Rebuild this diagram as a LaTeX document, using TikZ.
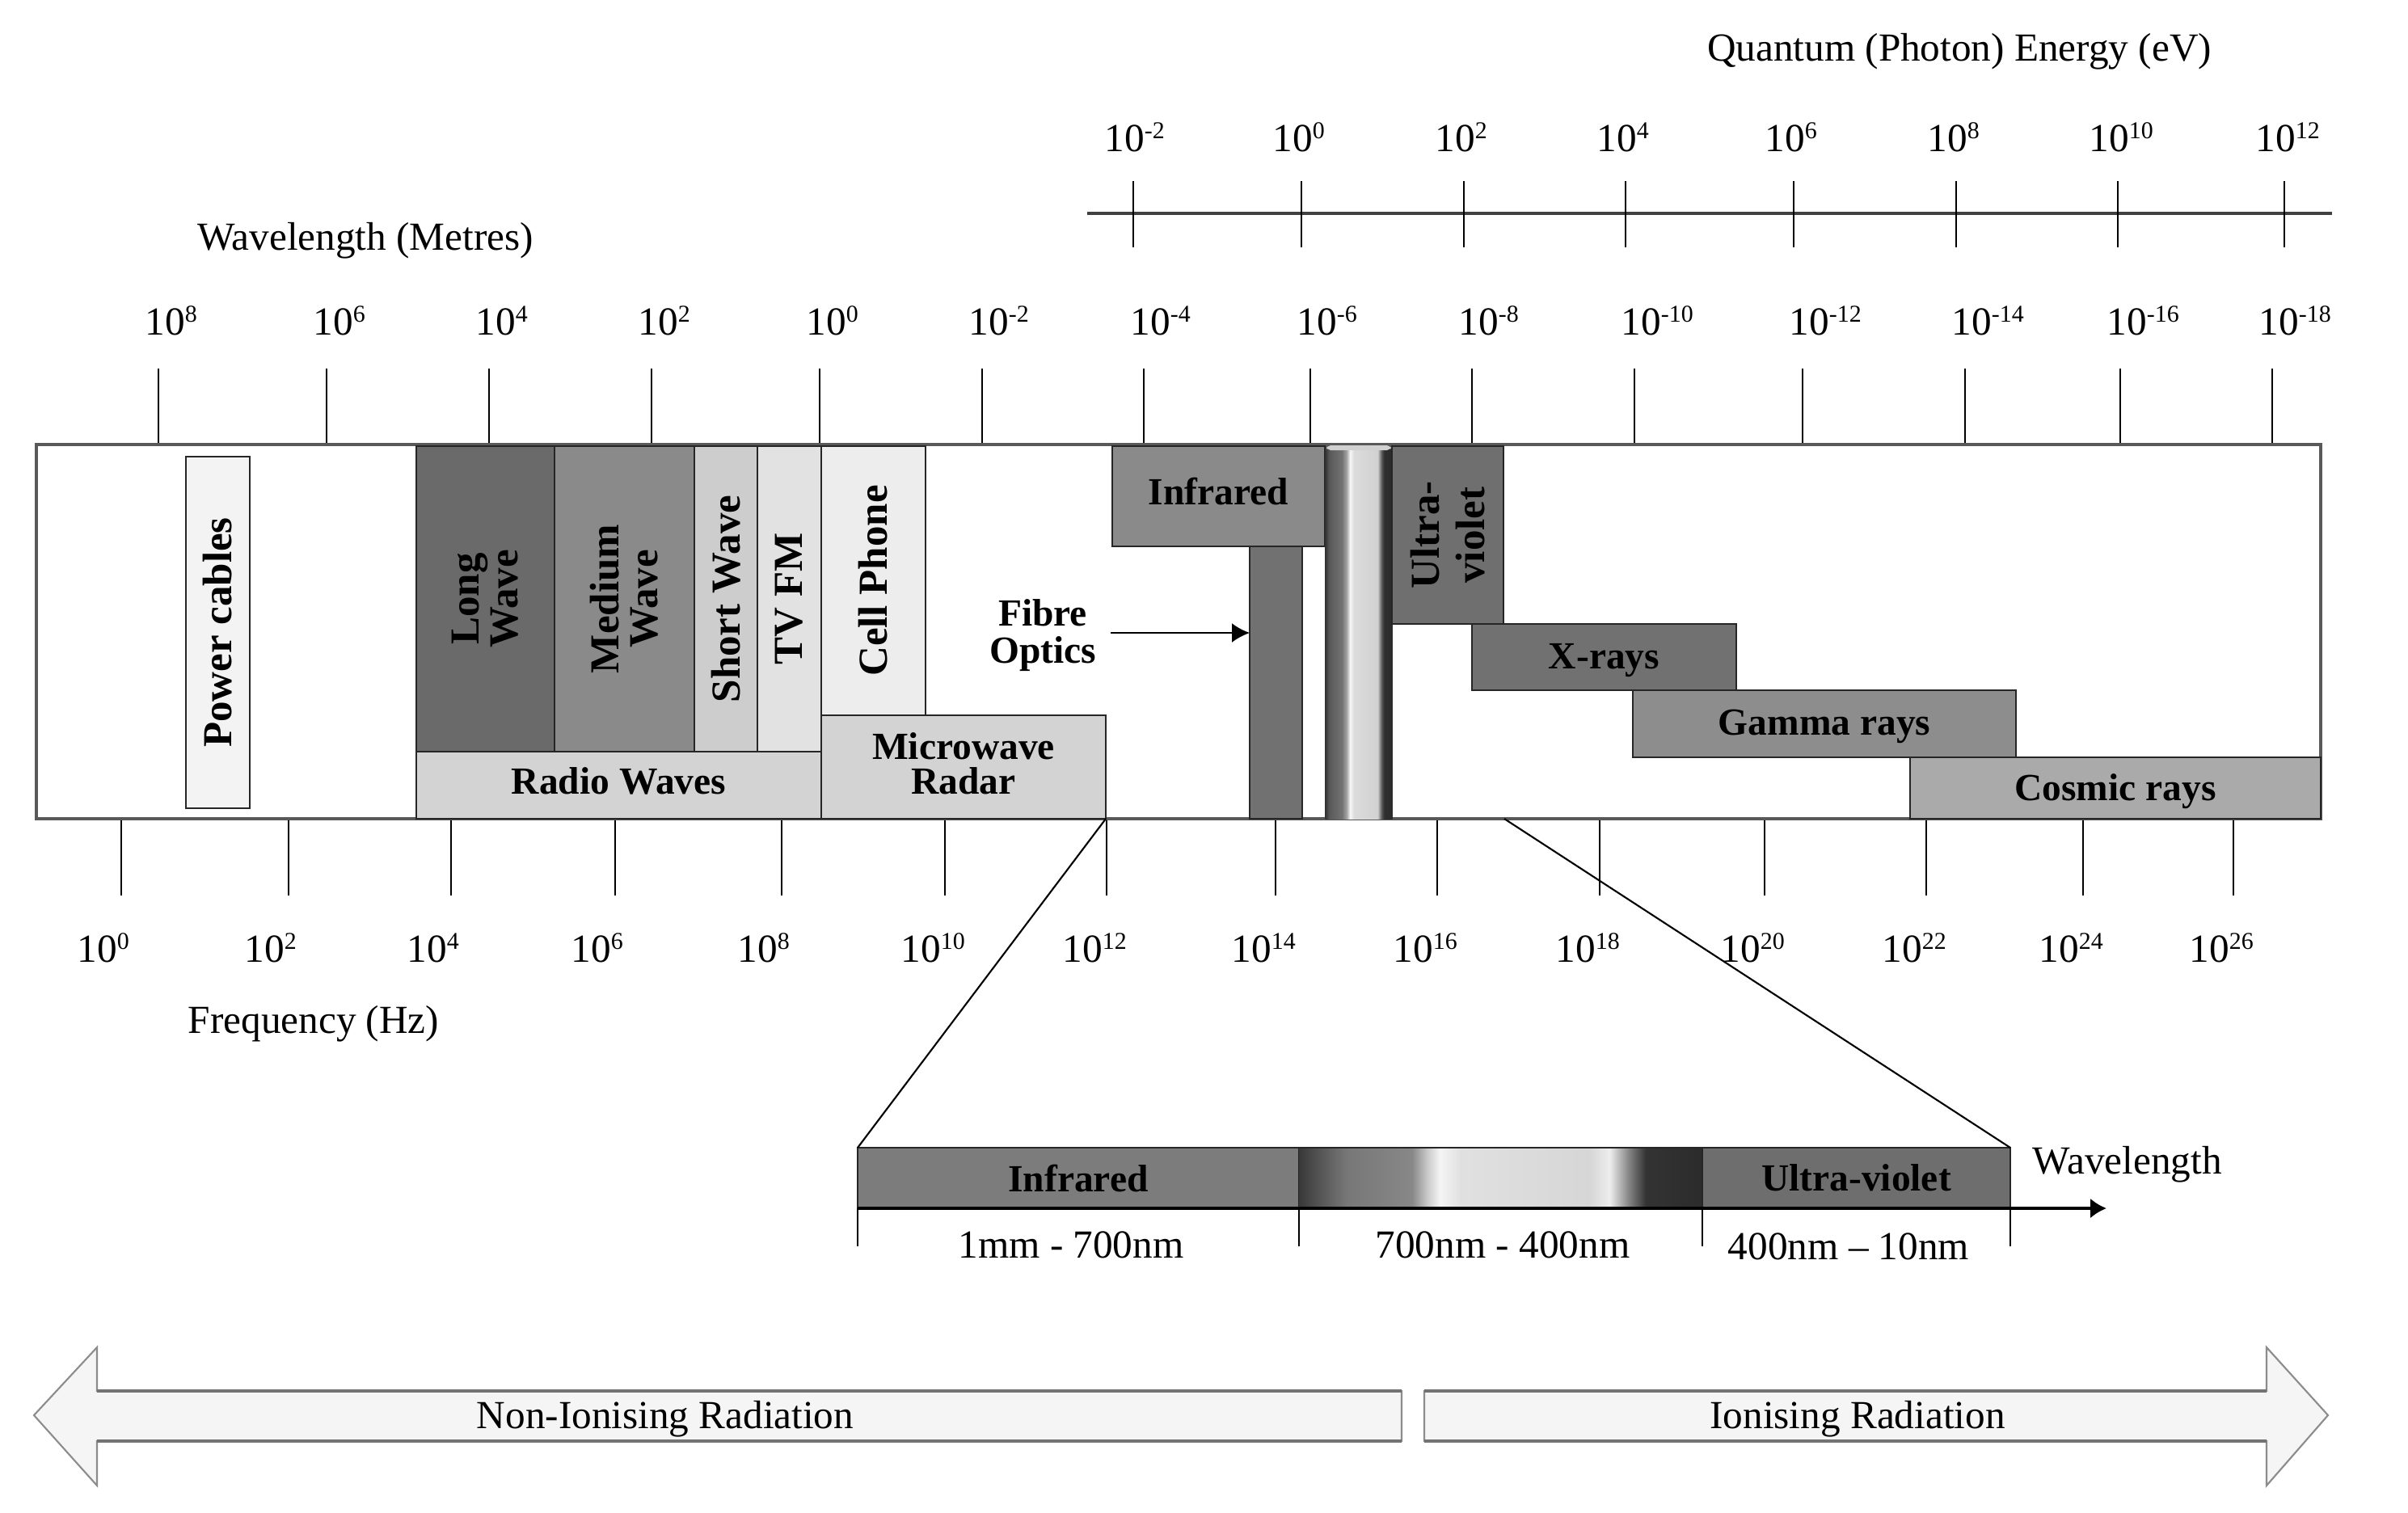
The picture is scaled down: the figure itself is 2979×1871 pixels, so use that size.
\documentclass[tikz,border=0pt]{standalone}
\usepackage{fontspec}
\setmainfont{Liberation Serif}
\usetikzlibrary{arrows.meta}
\definecolor{cLong}{HTML}{6A6A6A}
\definecolor{cMed}{HTML}{8A8A8A}
\definecolor{cShort}{HTML}{CDCDCD}
\definecolor{cTV}{HTML}{E2E2E2}
\definecolor{cCell}{HTML}{EDEDED}
\definecolor{cRadio}{HTML}{D3D3D3}
\definecolor{cMicro}{HTML}{D3D3D3}
\definecolor{cPower}{HTML}{F3F3F3}
\definecolor{cIR}{HTML}{8A8A8A}
\definecolor{cFib}{HTML}{717171}
\definecolor{cUV}{HTML}{6F6F6F}
\definecolor{cX}{HTML}{717171}
\definecolor{cGam}{HTML}{8D8D8D}
\definecolor{cCos}{HTML}{AAAAAA}
\definecolor{cSIR}{HTML}{7C7C7C}
\definecolor{cSUV}{HTML}{6E6E6E}
\pgfdeclarehorizontalshading{visband}{100bp}{color(0bp)=(black!80); color(25bp)=(black!80); color(28bp)=(black!65); color(37.5bp)=(black!55); color(41bp)=(black!35); color(43.5bp)=(black!3); color(46.5bp)=(black!14); color(64bp)=(black!18); color(67bp)=(black!65); color(69bp)=(black!82); color(75bp)=(black!83); color(100bp)=(black!83)}
\pgfdeclarehorizontalshading{visstrip}{100bp}{color(0bp)=(black!78); color(25bp)=(black!78); color(27.5bp)=(black!67); color(31bp)=(black!53); color(39bp)=(black!47); color(41bp)=(black!20); color(42.5bp)=(black!4); color(45bp)=(black!12); color(61bp)=(black!16); color(63.5bp)=(black!7); color(66bp)=(black!50); color(68bp)=(black!80); color(75bp)=(black!83); color(100bp)=(black!83)}
\newcommand\ee[1]{10\raisebox{4.3pt}{\fontsize{8.5}{8.5}\selectfont #1}}
\newcommand\mkbox[8]{\node[bbox, fill=#6, minimum width={(#4-#2)*0.01cm}, minimum height={(#5-#3)*0.01cm}, #7] (#1) at ({(#2+#4)/2},{(#3+#5)/2}) {#8};}
\begin{document}
\begin{tikzpicture}[x=0.01cm,y=-0.01cm,
  bbox/.style={draw=black!85, line width=0.6pt, inner sep=0pt, outer sep=0pt},
  blbl/.style={font=\fontsize{13.5}{12.5}\selectfont\bfseries, align=center, inner sep=0pt},
  vlbl/.style={font=\fontsize{14.5}{13.6}\selectfont\bfseries, align=center, inner sep=0pt, rotate=90},
  tlbl/.style={font=\fontsize{14}{14}\selectfont, inner sep=0pt},
  tk/.style={black, line width=0.5pt},
  zline/.style={black, line width=0.6pt},
  bigarrow/.style={draw=black!45, line width=0.6pt, fill=black!4},
  shaftedge/.style={black!55, line width=1.3pt}]
\useasboundingbox (0,0) rectangle (2979,1871);
\fill[white] (0,0) rectangle (2979,1871);

% ---- energy axis ----
\node[tlbl, anchor=base] (etitle) at (2424,75) {Quantum (Photon) Energy (eV)};
\draw[black!75, line width=1pt] (1345,264) -- (2885,264);
\foreach \x/\e [count=\i] in {1402/-2,1610/0,1811/2,2011/4,2219/6,2420/8,2620/10,2826/12}{
  \draw[tk] (\x,224) -- (\x,306);
  \node[tlbl, anchor=base west] (el\i) at (\x-36,187) {\ee{\e}};
}

% ---- wavelength axis ----
\node[tlbl, anchor=base] (wtitle) at (452,309) {Wavelength (Metres)};
\foreach \x/\e [count=\i] in {196/8,404/6,605/4,806/2,1014/0,1215/-2,1415/-4,1621/-6,1821/-8,2022/-10,2230/-12,2431/-14,2623/-16,2811/-18}{
  \draw[tk] (\x,456) -- (\x,550);
  \node[tlbl, anchor=base west] (wl\i) at (\x-17,414) {\ee{\e}};
}

% ---- frequency axis ----
\foreach \x/\e [count=\i] in {150/0,357/2,558/4,761/6,967/8,1169/10,1369/12,1578/14,1778/16,1979/18,2183/20,2383/22,2577/24,2763/26}{
  \draw[tk] (\x,1013) -- (\x,1108);
  \node[tlbl, anchor=base west] (fl\i) at (\x-55,1190) {\ee{\e}};
}
\node[tlbl, anchor=base] (ftitle) at (388,1278) {Frequency (Hz)};

% ---- main band ----
\mkbox{band}{45}{550}{2871}{1013}{white}{draw=black!65, line width=1.1pt}{}
\mkbox{power}{230}{565}{309}{1000}{cPower}{}{}
\node[vlbl] (tpower) at (power) {Power cables};
\mkbox{long}{515}{552}{686}{930}{cLong}{}{}
\node[vlbl] (tlong) at (long) {Long\\Wave};
\mkbox{med}{686}{552}{859}{930}{cMed}{}{}
\node[vlbl] (tmed) at (med) {Medium\\Wave};
\mkbox{short}{859}{552}{937}{930}{cShort}{}{}
\node[vlbl] (tshort) at (short) {Short Wave};
\mkbox{tv}{937}{552}{1016}{930}{cTV}{}{}
\node[vlbl] (ttv) at (tv) {TV FM};
\mkbox{cell}{1016}{552}{1145}{885}{cCell}{}{}
\node[vlbl] (tcell) at (cell) {Cell Phone};
\mkbox{radio}{515}{930}{1016}{1013}{cRadio}{}{}
\node[blbl, yshift=0.05cm] (tradio) at (radio) {Radio Waves};
\mkbox{micro}{1016}{885}{1368}{1013}{cMicro}{}{}
\node[blbl, font=\fontsize{13.5}{12.2}\selectfont\bfseries, yshift=0.04cm] (tmicro) at (micro) {Microwave\\Radar};
\mkbox{ir}{1376}{552}{1639}{676}{cIR}{}{}
\node[blbl, yshift=0.06cm] (tir) at (ir) {Infrared};
\mkbox{fib}{1546}{676}{1611}{1013}{cFib}{}{}
\node[inner sep=0pt, outer sep=0pt, shading=visband, minimum width={83*0.01cm}, minimum height={461*0.01cm}] (vis) at (1681,782.5) {};
\fill[black!18, rounded corners=1.5pt] (1641,551) rectangle (1721,557);
\mkbox{uv}{1722}{552}{1860}{772}{cUV}{}{}
\node[vlbl, font=\fontsize{14.5}{16}\selectfont\bfseries] (tuv) at (uv) {Ultra-\\violet};
\mkbox{xr}{1821}{772}{2148}{854}{cX}{}{}
\node[blbl, yshift=-0.04cm] (txr) at (xr) {X-rays};
\mkbox{gam}{2020}{854}{2494}{937}{cGam}{}{}
\node[blbl, yshift=-0.03cm] (tgam) at (gam) {Gamma rays};
\mkbox{cos}{2363}{937}{2871}{1013}{cCos}{}{}
\node[blbl, yshift=-0.04cm] (tcos) at (cos) {Cosmic rays};

% fibre optics label and arrow
\node[blbl, font=\fontsize{13.5}{13}\selectfont\bfseries] (tfib) at (1290,786) {Fibre\\Optics};
\coordinate (fibstart) at (1374,783);
\draw[line width=0.7pt, -{Latex[length=0.22cm,width=0.24cm]}] (fibstart) -- (fibstart -| fib.west);

% ---- zoomed strip ----
\mkbox{sir}{1061}{1420}{1607}{1495}{cSIR}{}{}
\node[blbl] (tsir) at (sir) {Infrared};
\node[inner sep=0pt, outer sep=0pt, shading=visstrip, minimum width={499*0.01cm}, minimum height={75*0.01cm}] (svis) at (1856.5,1457.5) {};
\draw[black!85, line width=0.6pt] (svis.north west) -- (svis.north east);
\mkbox{suv}{2106}{1420}{2487}{1495}{cSUV}{}{}
\node[blbl] (tsuv) at (suv) {Ultra-violet};
\coordinate (wend) at (2606,1495);
\draw[line width=1.2pt, -{Latex[length=0.2cm,width=0.25cm]}] (sir.south west) -- (wend);
\foreach \n in {sir.south west, sir.south east, suv.south west, suv.south east}{
  \draw[tk] (\n) -- ++(0,47);
}
\node[tlbl, anchor=base] (r1) at (1325,1556) {1mm - 700nm};
\node[tlbl, anchor=base] (r2) at (1859,1556) {700nm - 400nm};
\node[tlbl, anchor=base] (r3) at (2287,1558) {400nm – 10nm};
\node[tlbl, anchor=base west] (swl) at (2514,1452) {Wavelength};

% zoom connectors
\coordinate (uvfoot) at (1861,1013);
\draw[zline] (micro.south east) -- (sir.north west);
\draw[zline] (uvfoot) -- (suv.north east);

% ---- ionising arrows ----
\path[bigarrow] (1734,1721) -- (120,1721) -- (120,1667) -- (42,1751) -- (120,1838) -- (120,1783) -- (1734,1783) -- cycle;
\draw[shaftedge] (120,1721) -- (1734,1721) (120,1783) -- (1734,1783);
\path[bigarrow] (1762,1721) -- (2804,1721) -- (2804,1667) -- (2880,1751) -- (2804,1838) -- (2804,1783) -- (1762,1783) -- cycle;
\draw[shaftedge] (1762,1721) -- (2804,1721) (1762,1783) -- (2804,1783);
\node[tlbl, anchor=base] (nonion) at (823,1767) {Non-Ionising Radiation};
\node[tlbl, anchor=base] (ion) at (2298,1767) {Ionising Radiation};
\end{tikzpicture}
\end{document}
